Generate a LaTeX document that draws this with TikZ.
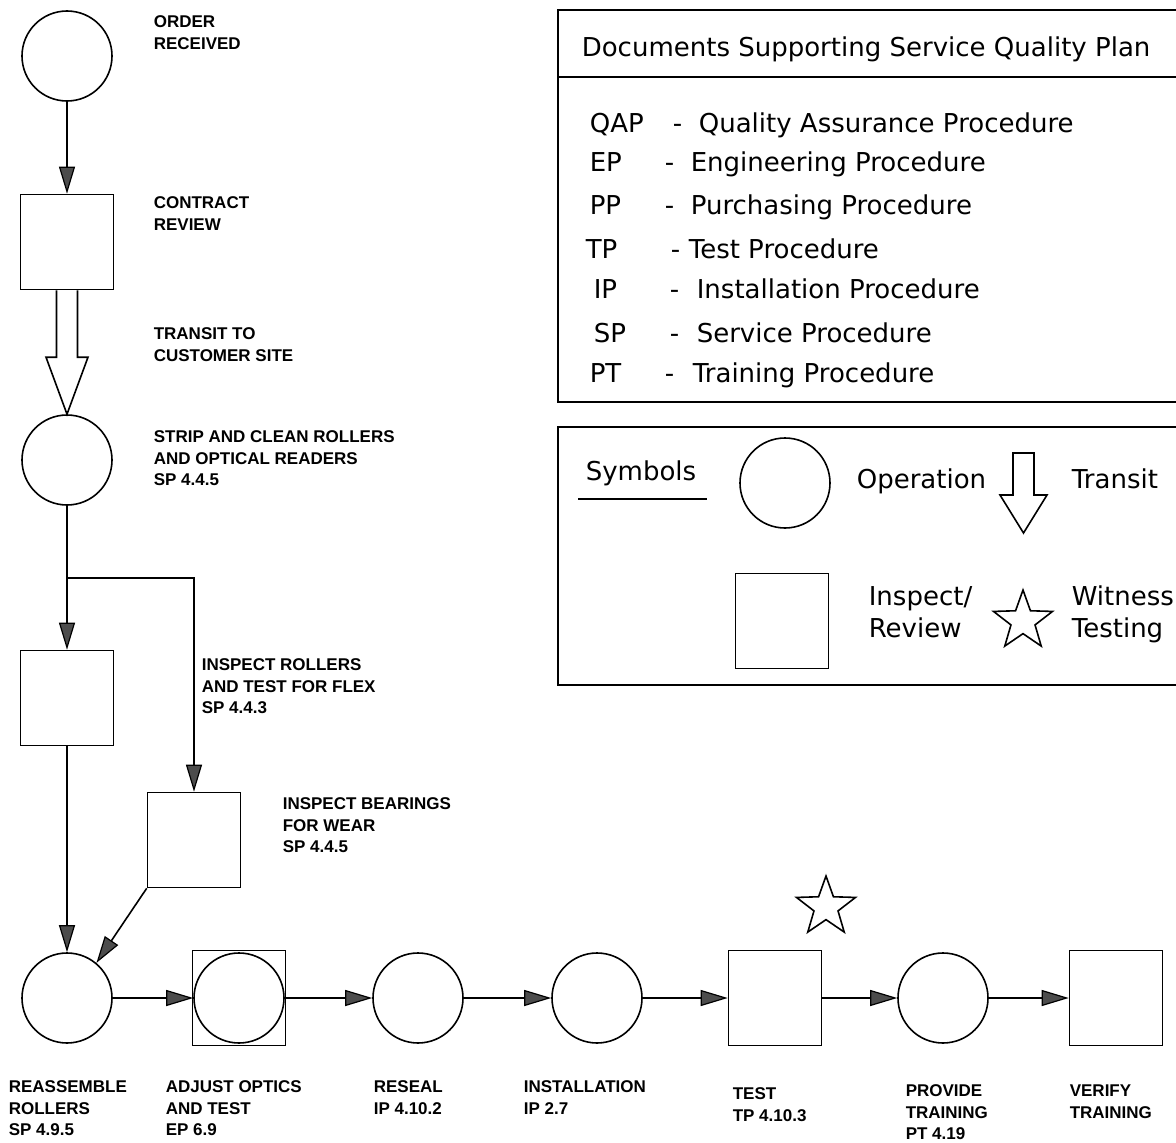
\documentclass[tikz,border=0pt]{standalone}
\usepackage{fontspec}
\setmainfont{Liberation Sans}
\newfontfamily\keyfont{DejaVu Sans}
\usepackage{tikz}
\usetikzlibrary{arrows.meta}
\usetikzlibrary{shapes.geometric}
\usetikzlibrary{calc}
\tikzstyle{op}=[circle, draw=black, line width=1.6pt, minimum size=90pt, inner sep=0pt]
\tikzstyle{insp}=[rectangle, draw=black, line width=1.6pt, minimum width=93pt, minimum height=95pt, inner sep=0pt]
\tikzstyle{witness}=[star, star points=5, star point ratio=2.45, draw=black, line width=1.6pt, minimum size=62pt, inner sep=0pt]

\begin{document}
\begin{tikzpicture}[x=1pt, y=-1pt, line width=1.6pt,
                      flow/.style={-{Triangle[length=27pt, width=16pt, fill=black!70, line width=1.2pt]}},
                      lbl/.style={anchor=north west, inner sep=0pt, align=left,
                                  font=\fontsize{17}{21.5}\selectfont\bfseries},
                      key/.style={anchor=base west, inner sep=0pt,
                                  font=\keyfont\fontsize{26}{31}\selectfont}]
    \useasboundingbox (0,0) rectangle (1176,1143);

    % left column
    \node[op] (order) at (67,56) {};
    \node[insp] (contract) at (67,242) {};
    \node[op] (strip) at (67,460) {};
    \coordinate (fork) at (67,578);
    \node[insp] (rollers) at (67,698) {};
    \node[insp] (bearings) at (194,840) {};

    % bottom row
    \node[op] (reassemble) at (67,998) {};
    \node[insp] (adjust) at (239,998) {};
    \node[op] (adjustop) at (239,998) {};
    \node[op] (reseal) at (418,998) {};
    \node[op] (install) at (597,998) {};
    \node[insp] (test) at (775,998) {};
    \node[witness] (teststar) at (826,907) {};
    \node[op] (training) at (943,998) {};
    \node[insp] (verify) at (1116,998) {};

    \draw[flow] (order) -- (contract);
    \draw[line join=miter] ($(contract.south)+(-10.5,0)$) |- ($(strip.north)+(-21,-57)$)
        -- (strip.north) -- ($(strip.north)+(21,-57)$) -| ($(contract.south)+(10.5,0)$);
    \draw (strip) -- (fork);
    \draw[flow] (fork) -- (rollers);
    \draw[flow] (fork) -| (bearings);
    \draw[flow] (rollers) -- (reassemble);
    \draw[flow] (bearings.south west) -- (reassemble.50);
    \foreach \a/\b in {reassemble/adjustop, adjustop/reseal, reseal/install,
                       install/test, test/training, training/verify}{
      \draw[flow] (\a) -- (\b);
    }

    \node[lbl] (lorder) at (153,15) {ORDER\\RECEIVED};
    \node[lbl] (lcontract) at (153,196) {CONTRACT\\REVIEW};
    \node[lbl] (ltransit) at (153,327) {TRANSIT TO\\CUSTOMER SITE};
    \node[lbl] (lstrip) at (153,430) {STRIP AND CLEAN ROLLERS\\AND OPTICAL READERS\\SP 4.4.5};
    \node[lbl] (lrollers) at (201,658) {INSPECT ROLLERS\\AND TEST FOR FLEX\\SP 4.4.3};
    \node[lbl] (lbearings) at (282,797) {INSPECT BEARINGS\\FOR WEAR\\SP 4.4.5};
    \node[lbl] (lreassemble) at (8,1080) {REASSEMBLE\\ROLLERS\\SP 4.9.5};
    \node[lbl] (ladjust) at (165,1080) {ADJUST OPTICS\\AND TEST\\EP 6.9};
    \node[lbl] (lreseal) at (373,1080) {RESEAL\\IP 4.10.2};
    \node[lbl] (linstall) at (523,1080) {INSTALLATION\\IP 2.7};
    \node[lbl] (ltest) at (732,1087) {TEST\\TP 4.10.3};
    \node[lbl] (ltraining) at (905,1084) {PROVIDE\\TRAINING\\PT 4.19};
    \node[lbl] (lverify) at (1069,1084) {VERIFY\\TRAINING};

    % documents list
    \draw (558,10) rectangle (1190,402);
    \draw (558,77) -- (1190,77);
    \node[key] (doctitle) at (581,56) {Documents Supporting Service Quality Plan};
    \foreach \ab/\ax/\dx/\tx/\by/\txt in {QAP/589/672/698/132/Quality Assurance Procedure,
                                         EP/589/664/690/171/Engineering Procedure,
                                         PP/589/664/690/214/Purchasing Procedure,
                                         TP/585/670/688/258/Test Procedure,
                                         IP/593/669/696/298/Installation Procedure,
                                         SP/593/669/696/342/Service Procedure,
                                         PT/589/664/692/382/Training Procedure}{
      \node[key] (ab-\ab) at (\ax,\by) {\ab};
      \node[key] (dash-\ab) at (\dx,\by) {-};
      \node[key] (txt-\ab) at (\tx,\by) {\txt};
    }

    % symbols key
    \draw (558,427) rectangle (1190,685);
    \node[key] (symhead) at (585,480) {Symbols};
    \draw[line width=1.2pt] (578,499) -- (707,499);
    \node[op] (keyop) at (785,483) {};
    \node[key] (lop) at (856,488) {Operation};
    \draw[line join=miter] (1013,453) -- (1013,495) -- (1000,495) -- (1023.5,533)
        -- (1047,495) -- (1034,495) -- (1034,453) -- cycle;
    \node[key] (lkeytransit) at (1071,488) {Transit};
    \node[insp] (keyinsp) at (782,621) {};
    \node[key] (linspect) at (868,605) {Inspect/};
    \node[key] (lreview) at (868,637) {Review};
    \node[witness] (keystar) at (1023,621) {};
    \node[key] (lwitness) at (1071,605) {Witness};
    \node[key] (ltesting) at (1071,637) {Testing};
  \end{tikzpicture}
\end{document}
